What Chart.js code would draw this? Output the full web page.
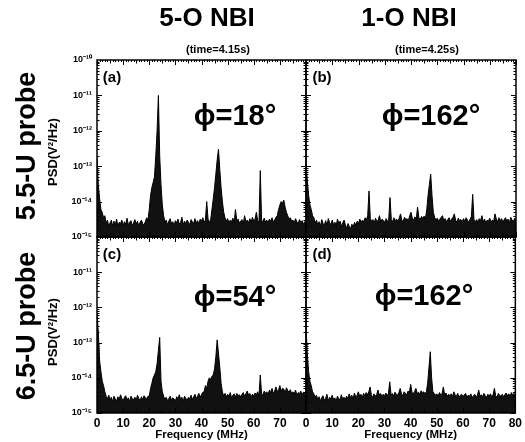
<!DOCTYPE html>
<html>
<head>
<meta charset="utf-8">
<script src="https://cdn.jsdelivr.net/npm/chart.js@4.4.1/dist/chart.umd.min.js"></script>
<style>
  html, body { margin: 0; padding: 0; background: #fff; }
  #wrap { position: relative; width: 525px; height: 442px; overflow: hidden;
          font-family: "Liberation Sans", Arial, sans-serif; font-weight: bold; color: #000; }
  #wrap canvas { position: absolute; left: 0; top: 0; }
  .txt { position: absolute; transform: translate(-50%, -50%); white-space: nowrap; line-height: 1; }
  .rot { transform: translate(-50%, -50%) rotate(-90deg); }
</style>
</head>
<body>
<div id="wrap">
  <canvas id="pa" width="525" height="442"></canvas>
  <canvas id="pb" width="525" height="442"></canvas>
  <canvas id="pc" width="525" height="442"></canvas>
  <canvas id="pd" width="525" height="442"></canvas>

  <div class="txt" style="left:207px;top:17px;font-size:26px">5-O NBI</div>
  <div class="txt" style="left:218px;top:49px;font-size:11px">(time=4.15s)</div>
  <div class="txt" style="left:409px;top:17px;font-size:26px">1-O NBI</div>
  <div class="txt" style="left:427px;top:49px;font-size:11px">(time=4.25s)</div>

  <div class="txt rot" style="left:26px;top:146px;font-size:27px">5.5-U probe</div>
  <div class="txt rot" style="left:52px;top:152px;font-size:13px">PSD(V²/Hz)</div>
  <div class="txt rot" style="left:26px;top:326px;font-size:27px">6.5-U probe</div>
  <div class="txt rot" style="left:52px;top:332px;font-size:13px">PSD(V²/Hz)</div>

  <div class="txt" style="left:112px;top:76px;font-size:15px">(a)</div>
  <div class="txt" style="left:322px;top:76px;font-size:15px">(b)</div>
  <div class="txt" style="left:112px;top:253px;font-size:15px">(c)</div>
  <div class="txt" style="left:322px;top:253px;font-size:15px">(d)</div>

  <div class="txt" style="left:235px;top:115px;font-size:29px">ϕ=18°</div>
  <div class="txt" style="left:431px;top:115px;font-size:29px">ϕ=162°</div>
  <div class="txt" style="left:235px;top:296px;font-size:29px">ϕ=54°</div>
  <div class="txt" style="left:424px;top:295px;font-size:29px">ϕ=162°</div>
</div>

<script>
// PSD values are given in units of 1e-15 V^2/Hz
const UNIT = 1e-15;

const freqMHz = [
  0, 0.5, 1, 1.5, 2, 2.5, 3, 3.5, 4, 4.5, 5, 5.5, 6, 6.5, 7, 7.5, 8, 8.5, 9, 9.5,
  10, 10.5, 11, 11.5, 12, 12.5, 13, 13.5, 14, 14.5, 15, 15.5, 16, 16.5, 17, 17.5, 18, 18.5, 19, 19.5,
  20, 20.5, 21, 21.5, 22, 22.5, 23, 23.5, 24, 24.5, 25, 25.5, 26, 26.5, 27, 27.5, 28, 28.5, 29, 29.5,
  30, 30.5, 31, 31.5, 32, 32.5, 33, 33.5, 34, 34.5, 35, 35.5, 36, 36.5, 37, 37.5, 38, 38.5, 39, 39.5,
  40, 40.5, 41, 41.5, 42, 42.5, 43, 43.5, 44, 44.5, 45, 45.5, 46, 46.5, 47, 47.5, 48, 48.5, 49, 49.5,
  50, 50.5, 51, 51.5, 52, 52.5, 53, 53.5, 54, 54.5, 55, 55.5, 56, 56.5, 57, 57.5, 58, 58.5, 59, 59.5,
  60, 60.5, 61, 61.5, 62, 62.5, 63, 63.5, 64, 64.5, 65, 65.5, 66, 66.5, 67, 67.5, 68, 68.5, 69, 69.5,
  70, 70.5, 71, 71.5, 72, 72.5, 73, 73.5, 74, 74.5, 75, 75.5, 76, 76.5, 77, 77.5, 78, 78.5, 79, 79.5,
  80
];

// (a) 5.5-U probe, 5-O NBI
const psdA = [
  180, 30, 12, 6, 5, 3.5, 4, 2.5, 3, 2,
  2.5, 3, 2, 2.8, 2.2, 3.2, 2, 2.6, 2.4, 3,
  2.1, 2.7, 2.3, 3.4, 2.2, 2.6, 2.9, 2.1, 2.5, 3.1,
  2.3, 2.8, 2, 2.6, 3, 2.4, 2.2, 2.7, 3.5, 3,
  6, 15, 25, 35, 50, 200, 1000, 10000, 200, 30,
  8, 4, 2.6, 3, 2.2, 2.8, 3.3, 2.4, 2.7, 2.1,
  2.9, 2.5, 3.2, 2.3, 2.6, 3.6, 2.2, 2.8, 2.4, 3,
  2.6, 2.2, 3.1, 2.7, 2.4, 3.3, 2.5, 2.9, 2.3, 3.2,
  2.8, 3.5, 2.6, 3, 10, 3.2, 2.7, 3, 6, 12,
  25, 60, 150, 300, 80, 25, 10, 5, 3.5, 2.8,
  3.3, 2.5, 3, 2.7, 3.4, 2.6, 6, 2.9, 3.2, 2.5,
  2.8, 3.1, 2.4, 4, 2.7, 3, 2.5, 3.3, 2.6, 3.6,
  2.8, 3.2, 5, 2.9, 2.6, 75, 3, 2.7, 3.4, 2.6,
  3, 2.5, 3.2, 2.8, 3.5, 2.7, 3, 3.6, 4, 6,
  8, 10, 9, 11, 7, 5, 4, 3.2, 3.5, 2.8,
  3, 2.5, 3.3, 2.7, 2.4, 3.1, 2.6, 2.9, 2.3, 2.7,
  2.5
];

// (b) 5.5-U probe, 1-O NBI
const psdB = [
  120, 40, 15, 8, 6, 4, 3.5, 2.5, 3, 2.2,
  2.7, 2, 3.1, 2.4, 2.2, 2.9, 2.1, 3.3, 2.5, 2.3,
  3, 2.2, 2.6, 2.1, 3.2, 2.4, 2.8, 2, 2.5, 3,
  2.2, 1.8, 2.4, 2, 1.7, 2.3, 1.9, 2.6, 2.1, 2.8,
  2.4, 3.2, 2.6, 3, 2.7, 3.5, 3, 4, 20, 3.3,
  2.8, 3.1, 2.5, 3.4, 2.7, 3, 4, 2.6, 3.2, 2.9,
  2.6, 3.3, 2.8, 3, 13, 3.1, 2.7, 3.5, 2.9, 3.2,
  2.8, 3.4, 4.5, 3, 2.7, 3.6, 3.1, 3.3, 2.9, 4,
  5, 3.4, 3, 3.7, 3.2, 7, 3.5, 3.1, 3.8, 3.4,
  3.9, 3.2, 6, 15, 30, 60, 15, 5, 3.6, 3,
  3.4, 2.8, 3.2, 3.6, 4, 2.9, 3.3, 2.7, 3.1, 3.5,
  2.8, 3.2, 3.6, 4.5, 3, 2.6, 3.4, 2.9, 3.1, 2.7,
  3.3, 2.8, 3.5, 3, 2.6, 3.2, 3.8, 16, 3, 2.7,
  3.1, 2.6, 3.3, 2.9, 4, 2.7, 3.2, 2.5, 3, 2.8,
  3.4, 2.6, 3, 2.8, 4.5, 3.2, 2.7, 3.5, 2.9, 3.3,
  2.6, 3.1, 3.5, 2.8, 3.2, 2.5, 3.6, 3, 2.7, 3.4,
  3
];

// (c) 6.5-U probe, 5-O NBI
const psdC = [
  700, 200, 30, 15, 8, 6, 4, 3, 2.5, 3.2,
  2.4, 2.8, 2.1, 3, 2.5, 2.2, 2.9, 2.4, 3.3, 2.6,
  2.2, 2.8, 3.1, 2.3, 2.7, 2.1, 3, 2.5, 2.4, 2.8,
  2.3, 3.2, 2.6, 2.2, 2.9, 2.4, 3.1, 2.7, 2.5, 3,
  3, 5, 7, 10, 12, 15, 25, 60, 140, 8,
  4, 3, 2.4, 2.8, 2.2, 2.6, 3, 2.3, 2.7, 2.5,
  2.2, 2.9, 2.5, 3.3, 2.4, 2.8, 2.1, 3, 2.6, 2.3,
  2.8, 2.5, 3.2, 2.4, 2.9, 3.4, 2.6, 3, 3.6, 2.8,
  3.3, 3.9, 4, 6, 5, 8, 10, 9, 11, 12,
  18, 40, 120, 50, 20, 7, 4, 3, 3.6, 2.9,
  3.4, 3, 3.8, 2.7, 3.2, 3.5, 2.8, 3.6, 3.1, 3.3,
  2.9, 3.4, 3.8, 3, 3.5, 4.2, 3.2, 3.6, 2.9, 3.4,
  3.1, 3.7, 3.3, 4, 3, 12, 3.5, 3.2, 4.2, 3.6,
  4, 3.3, 4.5, 3.8, 5, 3.5, 4.2, 5.5, 4, 4.6,
  6, 4.2, 5, 4.8, 3.6, 5.2, 4.4, 3.8, 4.6, 3.5,
  4, 3.4, 4.5, 3.2, 3.8, 3.5, 4.2, 3.3, 3.9, 3.6,
  3.4
];

// (d) 6.5-U probe, 1-O NBI
const psdD = [
  300, 50, 15, 8, 6, 4, 3.5, 2.8, 3.2, 2.4,
  2.9, 2.2, 2.7, 3.1, 2.3, 2.6, 3.4, 2.2, 2.8, 2.5,
  3.2, 2.4, 2.7, 2.1, 3, 2.6, 2.3, 3.3, 2.5, 2.8,
  2.4, 3, 2.6, 3.5, 2.7, 3.2, 2.5, 3.7, 2.9, 3.1,
  4, 3, 3.4, 2.7, 3.6, 3.1, 3.8, 3.3, 4, 5.5,
  3.2, 2.8, 3.5, 3, 3.3, 4.5, 3.2, 3.6, 2.9, 3.4,
  3, 3.7, 3.2, 3.5, 7.7, 3.3, 3.6, 3, 3.9, 3.4,
  3.2, 3.8, 5, 3.5, 3.1, 4, 3.6, 3.3, 4.2, 3.8,
  6.5, 3.9, 3.5, 4.1, 5, 3.6, 3.9, 3.4, 4.3, 3.7,
  4, 3.5, 4, 7, 20, 55, 10, 4, 3.6, 3.2,
  3.5, 3, 3.8, 3.3, 3.6, 5.5, 3.2, 3.7, 3, 3.4,
  3.1, 3.5, 2.9, 4, 3.3, 3, 3.6, 2.8, 3.2, 3.4,
  2.9, 3.3, 3.6, 2.8, 3.2, 3, 3.5, 2.7, 3.1, 3.4,
  2.8, 3.2, 4.5, 3, 3.3, 2.9, 3.6, 3.1, 2.8, 3.4,
  3, 3.5, 2.9, 3.3, 5, 3.1, 2.8, 3.6, 3.2, 3,
  3.4, 2.9, 3.3, 3.7, 3.1, 3.5, 3, 3.8, 3.2, 3.6,
  3.3
];

const xTickVals = [0, 10, 20, 30, 40, 50, 60, 70, 80];
const yTickVals = [1e-15, 1e-14, 1e-13, 1e-12, 1e-11, 1e-10];
const yTickText = ['10⁻¹⁵', '10⁻¹⁴', '10⁻¹³', '10⁻¹²', '10⁻¹¹', '10⁻¹⁰'];

const FONT = '"Liberation Sans", Arial, sans-serif';

// panel frame with inward tick marks on all four sides
const frame = {
  id: 'frame',
  afterDraw(chart) {
    const { ctx, chartArea: a, scales: { x, y } } = chart;
    ctx.save();
    ctx.strokeStyle = '#000';
    ctx.lineWidth = 1;
    ctx.beginPath();
    for (let f = 0; f <= 80; f++) {
      const px = Math.round(x.getPixelForValue(f)) + 0.5;
      const len = f % 10 === 0 ? 5 : (f % 5 === 0 ? 3.5 : 2);
      ctx.moveTo(px, a.top); ctx.lineTo(px, a.top + len);
      ctx.moveTo(px, a.bottom); ctx.lineTo(px, a.bottom - len);
    }
    for (let e = -15; e < -10; e++) {
      for (let m = 1; m < 10; m++) {
        const py = Math.round(y.getPixelForValue(m * Math.pow(10, e))) + 0.5;
        const len = m === 1 ? 5 : 2.5;
        ctx.moveTo(a.left, py); ctx.lineTo(a.left + len, py);
        ctx.moveTo(a.right, py); ctx.lineTo(a.right - len, py);
      }
    }
    ctx.stroke();
    ctx.lineWidth = 1.5;
    ctx.strokeRect(a.left, a.top, a.right - a.left, a.bottom - a.top);
    ctx.restore();
  }
};

function panel(id, psd, o) {
  return new Chart(document.getElementById(id), {
    type: 'line',
    data: {
      datasets: [{
        data: freqMHz.map((f, i) => ({ x: f, y: psd[i] * UNIT })),
        borderColor: '#000',
        backgroundColor: '#111',
        borderWidth: 1,
        pointRadius: 0,
        fill: 'start',
        tension: 0
      }]
    },
    options: {
      responsive: false,
      animation: false,
      events: [],
      layout: { padding: o.pad },
      plugins: { legend: { display: false }, tooltip: { enabled: false } },
      scales: {
        x: {
          type: 'linear', min: 0, max: 80,
          display: o.xLabels,
          afterBuildTicks: s => { s.ticks = xTickVals.filter(v => v < 80 || o.show80).map(v => ({ value: v })); },
          afterFit: s => { if (o.xLabels) s.height = 29; },
          grid: { display: false, drawTicks: false },
          border: { display: false },
          ticks: { color: '#000', padding: 3, maxRotation: 0, autoSkip: false,
                   font: { family: FONT, size: 12, weight: 'bold' } },
          title: { display: true, text: 'Frequency (MHz)', color: '#000', padding: 0,
                   font: { family: FONT, size: 11.5, weight: 'bold' } }
        },
        y: {
          type: 'logarithmic', min: 1e-15, max: 1e-10,
          display: o.yLabels,
          afterBuildTicks: s => { s.ticks = yTickVals.filter(v => v < 5e-11 || o.showTop).map(v => ({ value: v })); },
          afterFit: s => { if (o.yLabels) s.width = 40; },
          grid: { display: false, drawTicks: false },
          border: { display: false },
          ticks: { color: '#000', padding: 5, autoSkip: false,
                   font: { family: FONT, size: 9, weight: 'bold' },
                   callback: v => yTickText[yTickVals.indexOf(v)] }
        }
      }
    },
    plugins: [frame]
  });
}

panel('pa', psdA, { pad: { left: 57, right: 219, top: 60, bottom: 205 }, xLabels: false, yLabels: true, showTop: true });
panel('pb', psdB, { pad: { left: 306, right: 9, top: 60, bottom: 205 }, xLabels: false, yLabels: false });
panel('pc', psdC, { pad: { left: 57, right: 219, top: 237, bottom: 0 }, xLabels: true, yLabels: true, showTop: false, show80: false });
panel('pd', psdD, { pad: { left: 306, right: 9, top: 237, bottom: 0 }, xLabels: true, yLabels: false, show80: true });
</script>
</body>
</html>
